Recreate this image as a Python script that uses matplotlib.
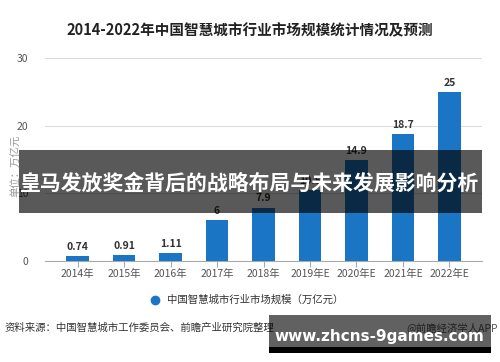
import matplotlib
matplotlib.use("Agg")
import matplotlib.pyplot as plt
from matplotlib.patches import Rectangle
from matplotlib.lines import Line2D

plt.rcParams['font.family'] = ['Noto Sans CJK SC', 'DejaVu Sans']

categories = ["2014年", "2015年", "2016年", "2017年", "2018年", "2019年E", "2020年E", "2021年E", "2022年E"]
values = [0.74, 0.91, 1.11, 6, 7.9, 10.5, 14.9, 18.7, 25]
value_labels = ["0.74", "0.91", "1.11", "6", "7.9", "10.5", "14.9", "18.7", "25"]
yticks = [0, 10, 20, 30]

title = "2014-2022年中国智慧城市行业市场规模统计情况及预测"
ylabel = "单位：万亿元"
legend_label = "中国智慧城市行业市场规模（万亿元）"
source = "资料来源：中国智慧城市工作委员会、前瞻产业研究院整理"
credit = "@前瞻经济学人APP"
overlay_text = "皇马发放奖金背后的战略布局与未来发展影响分析"
site_text = "www.zhcns-9games.com"

bar_color = "#1a75c4"

fig = plt.figure(figsize=(5, 3.62), dpi=100)
ax = fig.add_axes([0.09, 0.279, 0.874, 0.561])
x = range(len(categories))
ax.bar(x, values, width=0.48, color=bar_color, zorder=3)
for xi, v, lab in zip(x, values, value_labels):
    ax.text(xi, v + 0.6, lab, ha='center', va='bottom', fontsize=7.5,
            fontweight='bold', color='#333333', zorder=4)
ax.set_ylim(0, 30)
ax.set_xlim(-0.7, len(categories) - 0.3)
ax.set_yticks(yticks)
ax.set_xticks(list(x))
ax.set_xticklabels(categories, fontsize=7.5, color='#555555')
ax.tick_params(axis='y', length=0, labelsize=7.5, labelcolor='#555555', pad=12)
ax.tick_params(axis='x', length=4, color='#aaaaaa', pad=2)
ax.grid(axis='y', color='#dddddd', linewidth=0.8, zorder=0)
for s in ['top', 'right', 'left']:
    ax.spines[s].set_visible(False)
ax.spines['bottom'].set_color('#aaaaaa')
ax.set_ylabel(ylabel, fontsize=7.5, color='#999999')
ax.yaxis.set_label_coords(-0.055, 0.47)

fig.text(0.5, 0.915, title, ha='center', va='center', fontsize=10.5,
         fontweight='bold', color='#222222')

fig.add_artist(Line2D([0.31], [1 - 300 / 362], marker='o', markersize=6,
                      color=bar_color, linestyle='none', transform=fig.transFigure))
fig.text(0.335, 1 - 300 / 362, legend_label, ha='left', va='center',
         fontsize=7.5, color='#333333')
fig.text(0.01, 1 - 328 / 362, source, ha='left', va='center', fontsize=7.5, color='#333333')
fig.text(0.995, 1 - 328 / 362, credit, ha='right', va='center', fontsize=7.5, color='#555555')

# overlay band
fig.add_artist(Rectangle((19 / 500, 1 - 213 / 362), (482 - 19) / 500, 63 / 362,
                         transform=fig.transFigure, facecolor='black', alpha=0.65,
                         edgecolor='none', zorder=10))
fig.text(250 / 500, 1 - 183 / 362, overlay_text, ha='center', va='center',
         fontsize=15, fontweight='bold', color='white', zorder=11)

# website band
fig.add_artist(Rectangle((269 / 500, 1 - 347 / 362), (491 - 269) / 500, 32 / 362,
                         transform=fig.transFigure, facecolor='black', alpha=0.62,
                         edgecolor='none', zorder=10))
fig.add_artist(Rectangle((269 / 500, 1 - 353 / 362), (491 - 269) / 500, 6 / 362,
                         transform=fig.transFigure, facecolor='black',
                         edgecolor='none', zorder=10))
fig.text(379 / 500, 1 - 337 / 362, site_text, ha='center', va='center',
         fontsize=11, fontweight='bold', color='white', zorder=11,
         family=['DejaVu Sans'])

fig.savefig("out.png", dpi=100)
